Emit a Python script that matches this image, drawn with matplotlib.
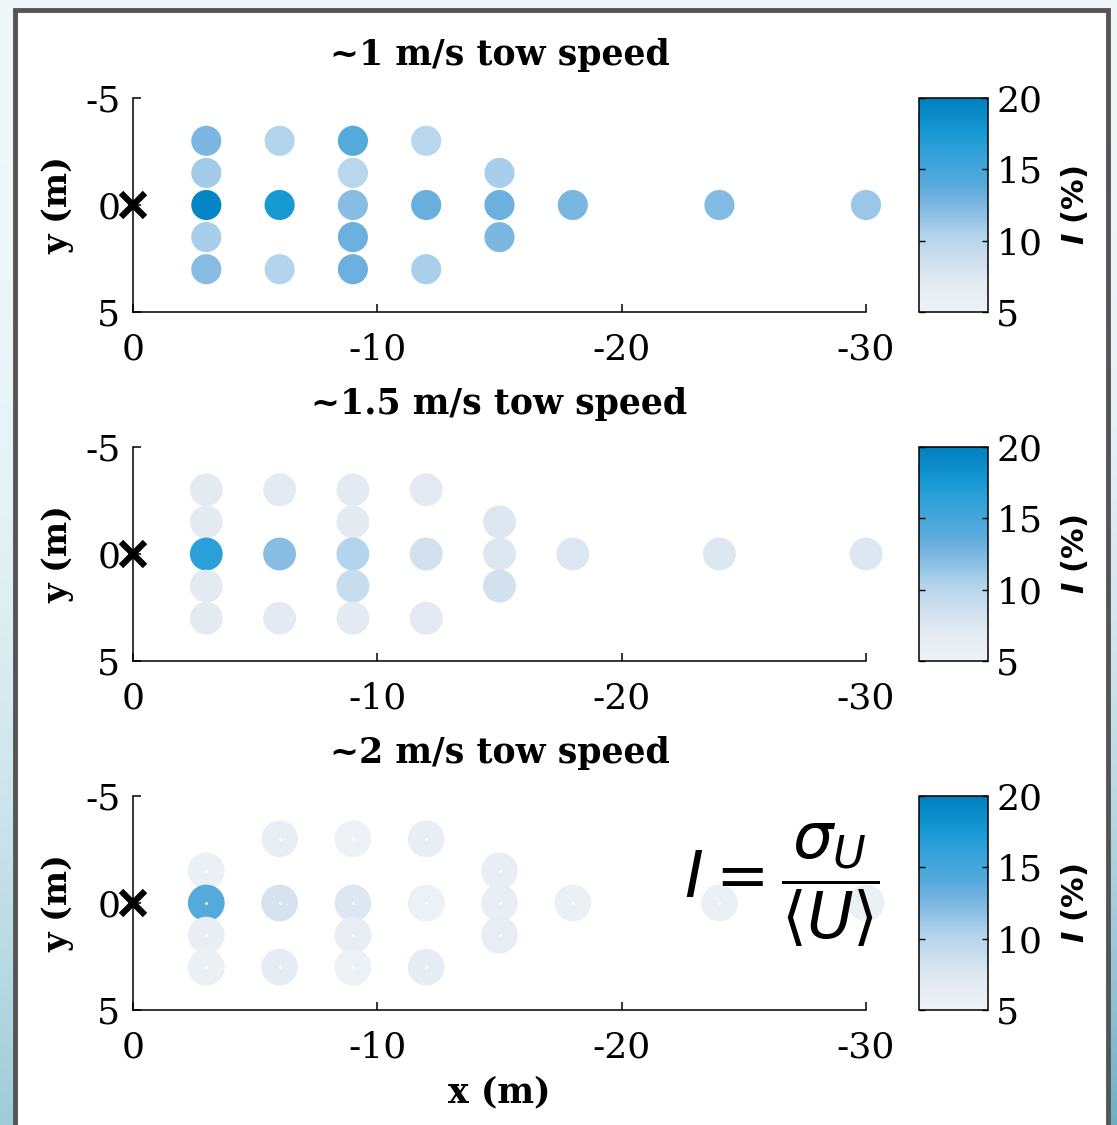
import numpy as np
import matplotlib
matplotlib.use("Agg")
import matplotlib.pyplot as plt
from matplotlib.colors import LinearSegmentedColormap, Normalize
from matplotlib.patches import Rectangle

# measurement grid (m) and turbulence intensity I (%) per tow speed
titles = ["~1 m/s tow speed", "~1.5 m/s tow speed", "~2 m/s tow speed"]

x1 = [-3, -3, -3, -3, -3, -6, -6, -6, -9, -9, -9, -9, -9, -12, -12, -12, -15, -15, -15, -18, -24, -30]
y1 = [-3, -1.5, 0, 1.5, 3, -3, 0, 3, -3, -1.5, 0, 1.5, 3, -3, 0, 3, -1.5, 0, 1.5, 0, 0, 0]
I1 = [12.5, 11.0, 19.5, 10.8, 12.0, 10.3, 17.5, 10.3, 14.0, 10.0, 12.0, 13.2, 13.2,
      10.0, 13.3, 10.7, 10.8, 13.2, 12.5, 12.6, 12.3, 11.3]

x2 = x1
y2 = y1
I2 = [7.0, 7.0, 16.5, 7.0, 7.0, 7.0, 12.0, 7.0, 7.0, 7.0, 10.3, 9.0, 7.0,
      7.0, 8.3, 7.0, 7.5, 7.5, 8.3, 7.5, 7.5, 7.5]

x3 = [-3, -3, -3, -3, -6, -6, -6, -9, -9, -9, -9, -12, -12, -12, -15, -15, -15, -18, -24, -30]
y3 = [-1.5, 0, 1.5, 3, -3, 0, 3, -3, 0, 1.5, 3, -3, 0, 3, -1.5, 0, 1.5, 0, 0, 0]
I3 = [5.5, 14.0, 6.0, 5.5, 6.0, 8.0, 6.5, 5.0, 7.5, 6.3, 5.3, 6.0, 5.3, 6.5,
      6.0, 6.0, 6.3, 5.5, 5.5, 5.5]

cbar_ticks = [5, 10, 15, 20]

cmap = LinearSegmentedColormap.from_list("tow", [
    (0.0, "#eef2f6"), (2 / 15, "#e3eaf2"), (3.3 / 15, "#d2e1ee"), (5.3 / 15, "#b3d4ec"),
    (7 / 15, "#88bde3"), (8.2 / 15, "#6ab0de"), (9 / 15, "#55aadc"), (11.5 / 15, "#2ca0d8"),
    (12.5 / 15, "#1799d3"), (1.0, "#0080c0")])
norm = Normalize(5, 20)

plt.rcParams["font.family"] = "DejaVu Serif"
plt.rcParams["mathtext.fontset"] = "dejavusans"

W, H = 1117, 1125
fig = plt.figure(figsize=(W / 100, H / 100), dpi=100)

# outer frame: light blue gradient with a grey-bordered white sheet
bg = fig.add_axes([0, 0, 1, 1], zorder=-10)
t = np.linspace(0, 1, 300)[:, None] ** 2.5
s = np.linspace(0, 1, 300)[None, :]
top = np.array([0.94, 0.97, 0.98])
bot_l = np.array([0.62, 0.80, 0.85])
bot_r = np.array([0.42, 0.69, 0.78])
bot = bot_l[None, None, :] * (1 - s[..., None]) + bot_r[None, None, :] * s[..., None]
img = top[None, None, :] * (1 - t[..., None]) + bot * t[..., None]
bg.imshow(img, extent=[0, W, H, 0], aspect="auto")
bg.add_patch(Rectangle((15, 10), 1093, H + 20, facecolor="white", edgecolor="#555555", lw=3.5))
bg.set_xlim(0, W)
bg.set_ylim(H, 0)
bg.axis("off")

xs = [x1, x2, x3]
ys = [y1, y2, y3]
Is = [I1, I2, I3]
msize = [470, 560, 700]
tops = [98, 447, 796]

for k in range(3):
    ax_top = tops[k]
    ax = fig.add_axes([133 / W, 1 - (ax_top + 214) / H, 733 / W, 214 / H])
    ax.scatter(xs[k], ys[k], c=Is[k], cmap=cmap, norm=norm, s=msize[k], linewidths=0,
               clip_on=False, zorder=3)
    if k == 2:
        ax.scatter(xs[k], ys[k], c="white", s=4, linewidths=0, clip_on=False, zorder=4)
    ax.plot([0], [0], "x", color="black", ms=17, mew=4.5, clip_on=False, zorder=5)
    ax.set_xlim(0, -30)
    ax.set_ylim(5, -5)
    ax.set_xticks([0, -10, -20, -30])
    ax.set_xticklabels(["0", "-10", "-20", "-30"])
    ax.set_yticks([-5, 0, 5])
    ax.set_yticklabels(["-5", "0", "5"])
    for side in ["top", "right"]:
        ax.spines[side].set_visible(False)
    for side in ["left", "bottom"]:
        ax.spines[side].set_linewidth(1.1)
    ax.tick_params(direction="in", length=6, width=1.1, labelsize=26)
    ax.tick_params(axis="x", pad=15)
    ax.tick_params(axis="y", pad=9)
    ax.set_ylabel("y (m)", fontsize=24, fontweight="bold", labelpad=8)
    ax.set_title(titles[k], fontsize=25, fontweight="bold", pad=24)
    if k == 2:
        ax.set_xlabel("x (m)", fontsize=25, fontweight="bold", labelpad=8)

    cax = fig.add_axes([919 / W, 1 - (ax_top + 214) / H, 69 / W, 214 / H])
    cb = fig.colorbar(plt.cm.ScalarMappable(norm=norm, cmap=cmap), cax=cax, ticks=cbar_ticks)
    cb.outline.set_linewidth(1.1)
    cax.tick_params(direction="in", length=4, width=1, labelsize=26, left=True, right=True, pad=6)
    cb.set_label(r"$\mathbfit{I}$ (%)", family="DejaVu Sans", fontweight="bold", fontsize=22,
                 labelpad=12)

fig.text(782 / W, 1 - 885 / H, r"$I = \dfrac{\sigma_U}{\left\langle U \right\rangle}$",
         fontsize=46, ha="center", va="center")

fig.savefig("out.png", dpi=100)
